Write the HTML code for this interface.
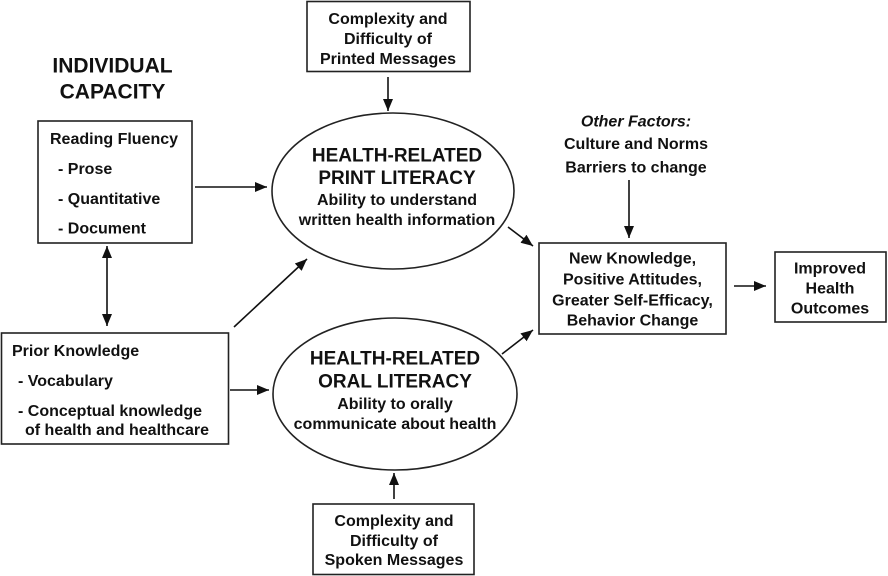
<!DOCTYPE html>
<html><head><meta charset="utf-8"><style>
html,body{margin:0;padding:0;background:#fff;}
svg{display:block;}
text{font-family:"Liberation Sans",Arial,sans-serif;font-weight:bold;fill:#111;}
</style></head><body>
<svg width="888" height="576" viewBox="0 0 888 576" xmlns="http://www.w3.org/2000/svg">
<defs>
<marker id="a" markerUnits="userSpaceOnUse" markerWidth="13" markerHeight="11" refX="12" refY="5.5" orient="auto-start-reverse">
<path d="M0,0.5 L12,5.5 L0,10.5 Z" fill="#111"/>
</marker>
</defs>
<g fill="none" stroke="#222" stroke-width="1.6">
<rect x="307" y="1.5" width="163" height="70"/>
<rect x="38" y="121" width="154" height="122"/>
<rect x="1.5" y="333" width="227" height="111"/>
<rect x="313" y="504" width="161" height="70.5"/>
<rect x="539" y="243" width="187" height="91"/>
<rect x="775" y="252" width="111" height="70"/>
<ellipse cx="393" cy="191" rx="121" ry="78"/>
<ellipse cx="395" cy="394" rx="122" ry="76"/>
</g>
<g stroke="#111" stroke-width="1.6" fill="none">
<line x1="388" y1="77" x2="388" y2="111" marker-end="url(#a)"/>
<line x1="195" y1="187" x2="267" y2="187" marker-end="url(#a)"/>
<line x1="107" y1="246" x2="107" y2="326" marker-start="url(#a)" marker-end="url(#a)"/>
<line x1="234" y1="327" x2="307" y2="259" marker-end="url(#a)"/>
<line x1="230" y1="390" x2="269" y2="390" marker-end="url(#a)"/>
<line x1="394" y1="499" x2="394" y2="473" marker-end="url(#a)"/>
<line x1="508" y1="227" x2="533" y2="246" marker-end="url(#a)"/>
<line x1="502" y1="354" x2="533" y2="330" marker-end="url(#a)"/>
<line x1="629" y1="180" x2="629" y2="238" marker-end="url(#a)"/>
<line x1="734" y1="286" x2="766" y2="286" marker-end="url(#a)"/>
</g>
<g font-size="21" text-anchor="middle">
<text x="112.5" y="72.5">INDIVIDUAL</text>
<text x="112.5" y="98.5">CAPACITY</text>
</g>
<g font-size="16">
<text x="50" y="144">Reading Fluency</text>
<text x="58" y="174">- Prose</text>
<text x="58" y="204">- Quantitative</text>
<text x="58" y="233.5">- Document</text>
<text x="12" y="356">Prior Knowledge</text>
<text x="18" y="386">- Vocabulary</text>
<text x="18" y="416">- Conceptual knowledge</text>
<text x="25" y="435">of health and healthcare</text>
</g>
<g font-size="16" text-anchor="middle">
<text x="388" y="24">Complexity and</text>
<text x="388" y="44">Difficulty of</text>
<text x="388" y="64">Printed Messages</text>
<text x="394" y="526">Complexity and</text>
<text x="394" y="546">Difficulty of</text>
<text x="394" y="565">Spoken Messages</text>
<text x="397" y="205">Ability to understand</text>
<text x="397" y="225">written health information</text>
<text x="395" y="409">Ability to orally</text>
<text x="395" y="429">communicate about health</text>
<text x="636" y="126.5" font-style="italic" font-weight="normal">Other Factors:</text>
<text x="636" y="149">Culture and Norms</text>
<text x="636" y="172.5">Barriers to change</text>
<text x="632.5" y="263.5">New Knowledge,</text>
<text x="632.5" y="284.5">Positive Attitudes,</text>
<text x="632.5" y="305.5">Greater Self-Efficacy,</text>
<text x="632.5" y="325.5">Behavior Change</text>
<text x="830" y="273.5">Improved</text>
<text x="830" y="293.5">Health</text>
<text x="830" y="313.5">Outcomes</text>
</g>
<g font-size="19" text-anchor="middle">
<text x="397" y="161.5">HEALTH-RELATED</text>
<text x="397" y="184">PRINT LITERACY</text>
<text x="395" y="364.5">HEALTH-RELATED</text>
<text x="395" y="387.5">ORAL LITERACY</text>
</g>
</svg>
</body></html>
